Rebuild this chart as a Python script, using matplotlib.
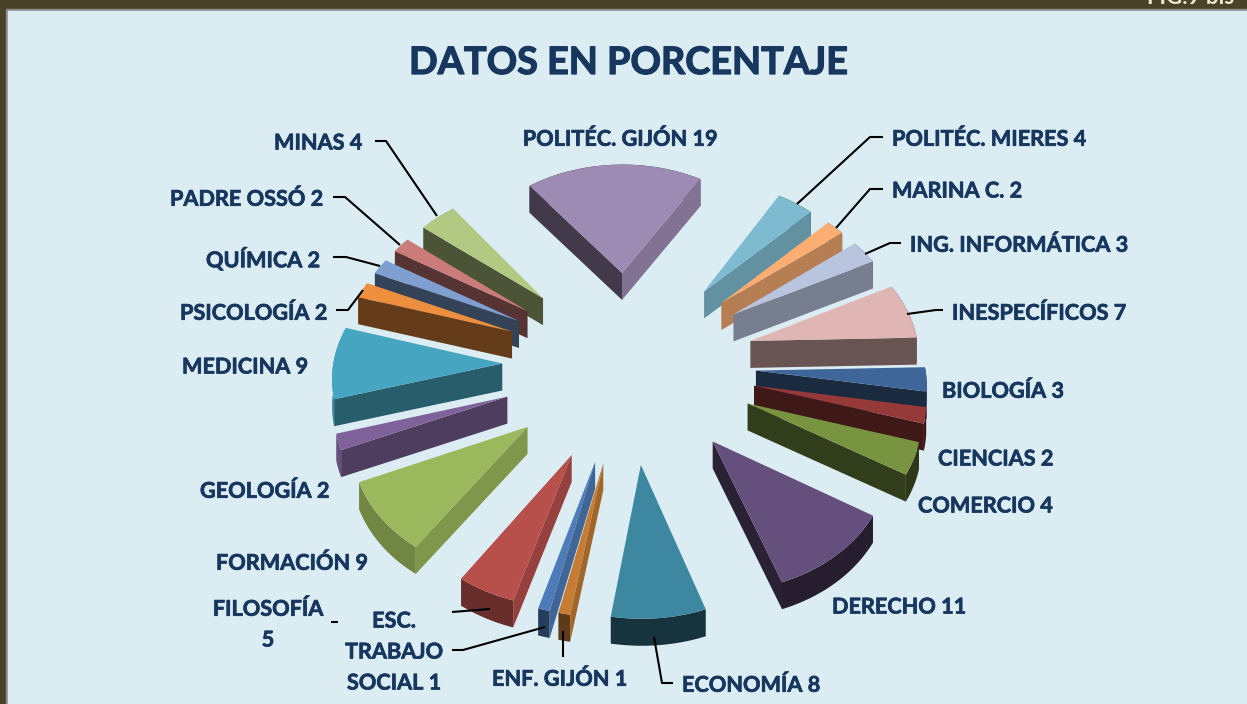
#!/usr/bin/env python3
# -*- coding: utf-8 -*-

import numpy as np
import matplotlib
matplotlib.use("Agg")
import matplotlib.pyplot as plt
import matplotlib.patheffects as pe
from matplotlib.transforms import Transform
from matplotlib.colors import to_rgb

nombres = ["POLITÉC. GIJÓN", "POLITÉC. MIERES", "MARINA C.", "ING. INFORMÁTICA", "INESPECÍFICOS",
           "BIOLOGÍA", "CIENCIAS", "COMERCIO", "DERECHO", "ECONOMÍA", "ENF. GIJÓN", "ESC. TRABAJO SOCIAL",
           "FILOSOFÍA", "FORMACIÓN", "GEOLOGÍA", "MEDICINA", "PSICOLOGÍA", "QUÍMICA", "PADRE OSSÓ", "MINAS"]
valores = [19, 4, 2, 3, 7, 3, 2, 4, 11, 8, 1, 1, 5, 9, 2, 9, 2, 2, 2, 4]
colores = ["#9E8BB3", "#7EBBD0", "#FBAD72", "#B9C4DF", "#E0B6B5", "#3E6699", "#953A38", "#789440",
           "#654F7C", "#3D87A1", "#C77C33", "#4D7CB8", "#B74F4B", "#9BB85C", "#7F6299", "#46A5C0",
           "#EE8E3F", "#7F9FD1", "#CB7B7A", "#B2C983"]

# texto, x, y, alineacion
etiquetas = [("POLITÉC. GIJÓN 19", 620, 139, "center"), ("POLITÉC. MIERES 4", 892, 139, "left"),
             ("MARINA C. 2", 892, 191, "left"), ("ING. INFORMÁTICA 3", 910, 245, "left"),
             ("INESPECÍFICOS 7", 952, 313, "left"), ("BIOLOGÍA 3", 942, 391, "left"),
             ("CIENCIAS 2", 938, 459, "left"), ("COMERCIO 4", 918, 506, "left"),
             ("DERECHO 11", 832, 607, "left"), ("ECONOMÍA 8", 682, 685, "left"),
             ("ENF. GIJÓN 1", 492, 679, "left"), ("ESC.", 394, 621, "center"), ("TRABAJO", 394, 652, "center"),
             ("SOCIAL 1", 394, 683, "center"), ("FILOSOFÍA", 268, 609, "center"), ("5", 268, 640, "center"),
             ("FORMACIÓN 9", 216, 563, "left"), ("GEOLOGÍA 2", 200, 491, "left"), ("MEDICINA 9", 182, 367, "left"),
             ("PSICOLOGÍA 2", 180, 313, "left"), ("QUÍMICA 2", 206, 259, "left"), ("PADRE OSSÓ 2", 170, 199, "left"),
             ("MINAS 4", 274, 143, "left")]

guias = [[(883, 137), (870, 137), (797, 204)], [(883, 189), (870, 189), (836, 228)],
         [(901, 243), (890, 243), (865, 254)], [(943, 310), (936, 310), (907, 314)],
         [(673, 683), (662, 683), (654, 637)], [(563, 657), (563, 631)],
         [(452, 650), (463, 650), (545, 627)], [(452, 612), (490, 609)], [(331, 622), (338, 622)],
         [(336, 310), (348, 310), (363, 290)], [(333, 257), (346, 257), (380, 266)],
         [(333, 197), (345, 197), (400, 245)], [(375, 141), (386, 141), (437, 216)]]

CX, CY, A, B, K = 629, 364, 169, 128, 0.07
SEPARA = 0.75
FONDO = 27
AZUL = "#17375E"


class Perspectiva(Transform):
    input_dims = 2
    output_dims = 2

    def transform_non_affine(self, xy):
        xy = np.asarray(xy)
        w = 1 + K*xy[:, 1]
        return np.column_stack((CX + A*xy[:, 0]/w, CY - B*xy[:, 1]/w))


def oscuro(color, f):
    return tuple(c*f for c in to_rgb(color))


plt.rcParams['font.family'] = ['Lato', 'DejaVu Sans']
fig = plt.figure(figsize=(12.47, 7.04), dpi=100, facecolor="#4A4228")
ax = fig.add_axes([0, 0, 1, 1])

cuñas, _ = ax.pie(valores, explode=[SEPARA]*len(valores), colors=colores, startangle=127.5,
                  counterclock=False, wedgeprops={'linewidth': 0})
ax.set_xlim(0, 1247)
ax.set_ylim(704, 0)
ax.set_aspect('auto')
ax.axis('off')

ax.fill([6, 1247, 1247, 6], [9, 9, 704, 704], color="#8C8C8C", zorder=0)
ax.fill([8, 1247, 1247, 8], [11, 11, 704, 704], color="#DBEDF3", zorder=0.1)

persp = Perspectiva()
orden = sorted(range(len(cuñas)), key=lambda i: persp.transform(np.array([cuñas[i].center]))[0, 1])
for z, i in enumerate(orden):
    c = cuñas[i]
    c.set_transform(persp + ax.transData)
    c.set_zorder(3*z + 3)
    cx, cy = c.center
    centro = persp.transform(np.array([[cx, cy]]))[0]
    t_med = np.radians((c.theta1 + c.theta2)/2)
    medio = persp.transform(np.array([[cx + 0.6*c.r*np.cos(t_med), cy + 0.6*c.r*np.sin(t_med)]]))[0]

    # pared exterior
    ts = np.radians(np.linspace(c.theta1, c.theta2, 40))
    arco = persp.transform(np.column_stack((cx + c.r*np.cos(ts), cy + c.r*np.sin(ts))))
    pared = np.vstack((arco, (arco + [0, FONDO])[::-1]))
    nx = np.cos(t_med)
    ax.fill(pared[:, 0], pared[:, 1], color=oscuro(colores[i], 0.38 + 0.45*max(0, -nx)), lw=0, zorder=3*z + 1)

    # paredes radiales
    for t in (c.theta1, c.theta2):
        r = np.radians(t)
        fin = persp.transform(np.array([[cx + c.r*np.cos(r), cy + c.r*np.sin(r)]]))[0]
        d = fin - centro
        n = np.array([-d[1], d[0]])/np.hypot(*d)
        if np.dot(n, medio - centro) > 0:
            n = -n
        if n[1] <= 0:
            continue
        q = np.array([centro, fin, fin + [0, FONDO], centro + [0, FONDO]])
        ax.fill(q[:, 0], q[:, 1], color=oscuro(colores[i], np.clip(0.45 + 0.55*n[0], 0.42, 0.82)),
                lw=0, zorder=3*z + 2)

for g in guias:
    xs, ys = zip(*g)
    ax.plot(xs, ys, color="black", lw=1.5, zorder=200, solid_capstyle='butt')

grueso = [pe.withStroke(linewidth=0.5, foreground=AZUL)]
for texto, x, y, al in etiquetas:
    ax.text(x, y, texto, ha=al, va='center', fontsize=15.6, fontweight='bold', color=AZUL, zorder=201,
            path_effects=grueso)

ax.text(628, 63, "DATOS EN PORCENTAJE", ha='center', va='center', fontsize=27.2, fontweight='bold',
        color=AZUL, zorder=201, path_effects=[pe.withStroke(linewidth=0.9, foreground=AZUL)])
ax.text(1147, -3, "FIG.9 bis", ha='left', va='center', fontsize=16, fontweight='bold', color="#EEEAD8", zorder=201)

fig.savefig("out.png", dpi=100, facecolor=fig.get_facecolor())
